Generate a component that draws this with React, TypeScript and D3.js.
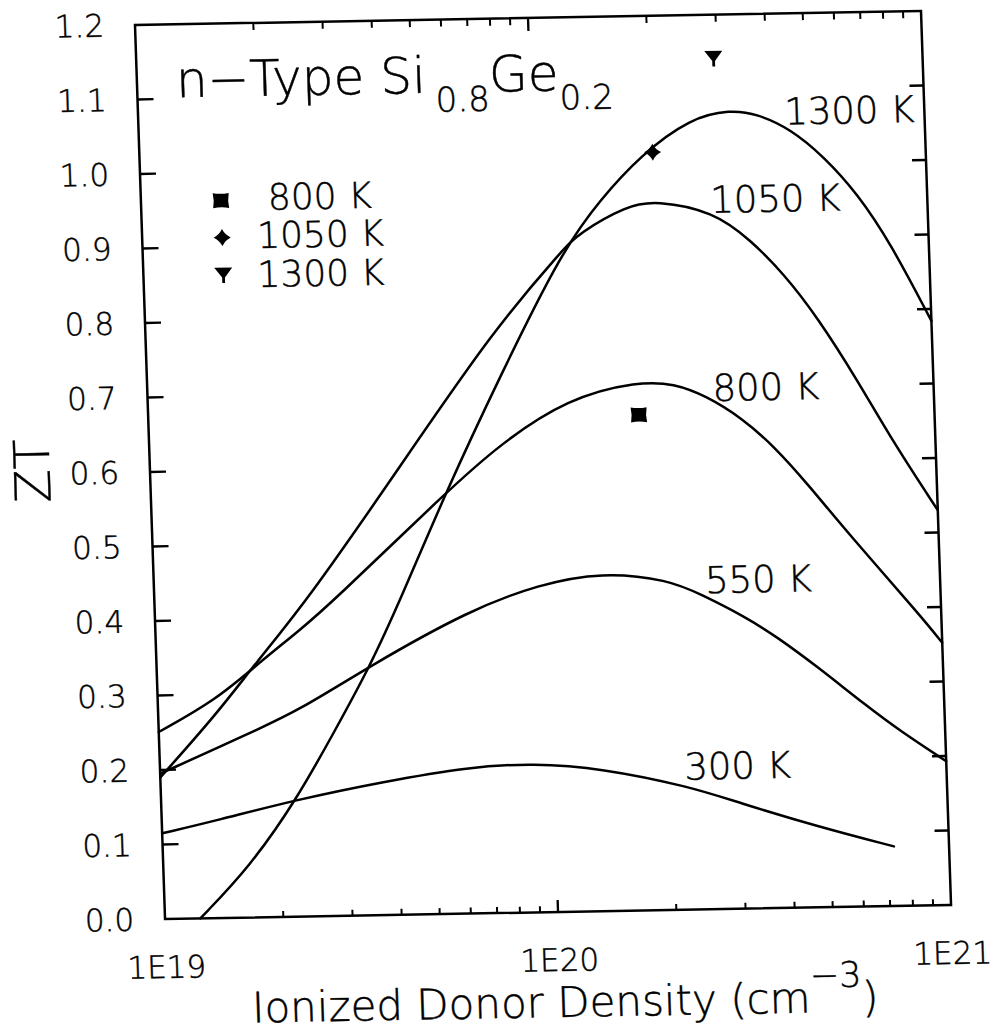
import React from 'react';
import * as d3 from 'd3';

// ---------- data ----------
const X_DOMAIN = [1e19, 1e21];
const Y_DOMAIN = [0, 1.2];
const Y_TICKS = [0.0, 0.1, 0.2, 0.3, 0.4, 0.5, 0.6, 0.7, 0.8, 0.9, 1.0, 1.1, 1.2];
const Y_TICK_LABELS = ['0.0', '0.1', '0.2', '0.3', '0.4', '0.5', '0.6', '0.7', '0.8', '0.9', '1.0', '1.1', '1.2'];
const X_MAJOR = [1e19, 1e20, 1e21];
const X_MAJOR_LABELS = ['1E19', '1E20', '1E21'];
const X_MINOR_MULT = [2, 3, 4, 5, 6, 7, 8, 9];

const SERIES_LABELS = ['300 K', '550 K', '800 K', '1050 K', '1300 K'];

const N_300 = [1.0e19, 1.38e19, 2.21e19, 3.69e19, 6.15e19, 8.91e19, 1.32e20, 2.22e20, 2.92e20, 4.68e20, 7.24e20];
const ZT_300 = [0.115, 0.131, 0.157, 0.179, 0.197, 0.200, 0.192, 0.165, 0.143, 0.108, 0.080];

const N_550 = [1.0e19, 1.70e19, 2.29e19, 3.47e19, 6.31e19, 9.55e19, 1.38e20, 2.04e20, 2.45e20, 3.16e20, 3.80e20, 4.79e20, 6.31e20, 7.76e20, 1.0e21];
const ZT_550 = [0.195, 0.247, 0.277, 0.334, 0.407, 0.440, 0.455, 0.443, 0.423, 0.392, 0.364, 0.323, 0.270, 0.233, 0.193];

const N_800 = [1.0e19, 1.41e19, 1.82e19, 2.34e19, 2.82e19, 5.62e19, 7.76e19, 1.17e20, 1.78e20, 2.19e20, 2.63e20, 3.24e20, 3.89e20, 4.68e20, 5.89e20, 8.91e20, 1.0e21];
const ZT_800 = [0.251, 0.293, 0.341, 0.385, 0.420, 0.565, 0.628, 0.689, 0.710, 0.706, 0.689, 0.658, 0.619, 0.569, 0.501, 0.387, 0.352];

const N_1050 = [1.0e19, 1.41e19, 1.78e19, 2.45e19, 4.27e19, 7.67e19, 1.17e20, 1.29e20, 1.72e20, 2.04e20, 2.85e20, 3.52e20, 4.25e20, 5.13e20, 6.40e20, 7.83e20, 1.0e21];
const ZT_1050 = [0.190, 0.274, 0.340, 0.424, 0.597, 0.782, 0.888, 0.910, 0.946, 0.952, 0.936, 0.897, 0.851, 0.792, 0.707, 0.621, 0.530];

const N_1300 = [1.23e19, 1.66e19, 2.21e19, 2.78e19, 3.49e19, 4.22e19, 5.62e19, 7.91e19, 1.17e20, 1.47e20, 1.88e20, 2.54e20, 3.21e20, 3.75e20, 4.55e20, 5.50e20, 6.64e20, 8.0e20, 1.0e21];
const ZT_1300 = [0.0, 0.068, 0.157, 0.245, 0.334, 0.422, 0.565, 0.720, 0.888, 0.954, 1.013, 1.062, 1.072, 1.066, 1.045, 1.007, 0.957, 0.889, 0.784];

const MEAS_LABELS = ['800 K', '1050 K', '1300 K'];
const MEAS_N = [1.77e20, 2.02e20, 2.94e20];
const MEAS_ZT = [0.665, 1.017, 1.142];

// ---------- layout ----------
const W = 786;
const H = 894;
const FONT = '"DejaVu Sans", sans-serif';
const SKEW = 'matrix(1,-0.0178,0.0336,1,135,25)';
const TXT = { fontWeight: 200, stroke: '#000', strokeWidth: 0.45 };

const SERIES = [
  { n: N_300, zt: ZT_300 },
  { n: N_550, zt: ZT_550 },
  { n: N_800, zt: ZT_800 },
  { n: N_1050, zt: ZT_1050 },
  { n: N_1300, zt: ZT_1300 },
];
const SERIES_LABEL_POS = [
  [524, 764],
  [551, 578],
  [565, 386],
  [569, 198],
  [646, 111],
];

const LEGEND_SYM_POS = [[80, 177], [80, 214], [80, 251]];
const LEGEND_TXT_POS = [[127, 187], [115, 225], [114, 264]];

function marker(kind: number) {
  if (kind === 0) return 'M-8,-7.5 Q0,-6 8,-7.5 Q6.5,0 8,7.5 Q0,6 -8,7.5 Q-6.5,0 -8,-7.5 Z';
  if (kind === 1) return 'M0,-8.5 Q2.8,-2.8 8.5,0 Q2.8,2.8 0,8.5 Q-2.8,2.8 -8.5,0 Q-2.8,-2.8 0,-8.5 Z';
  return 'M-9,-7 L9,-7 L1.4,3 L1.4,8.5 L-1.4,8.5 L-1.4,3 Z';
}

export default function App() {
  const x = d3.scaleLog().domain(X_DOMAIN).range([0, W]);
  const y = d3.scaleLinear().domain(Y_DOMAIN).range([H, 0]);

  const line = d3
    .line<[number, number]>()
    .x((d) => x(d[0]))
    .y((d) => y(d[1]))
    .curve(d3.curveBasis);

  const minor: number[] = [];
  [1e19, 1e20].forEach((dec) => X_MINOR_MULT.forEach((m) => minor.push(dec * m)));

  return (
    <svg
      width={998}
      height={1032}
      style={{ position: 'absolute', left: 0, top: 0, background: '#fff' }}
      fontFamily={FONT}
    >
      <rect x={0} y={0} width={998} height={1032} fill="#fff" />
      <g transform={SKEW}>
        {/* frame */}
        <rect x={0} y={0} width={W} height={H} fill="none" stroke="#000" strokeWidth={2.5} />

        {/* y ticks left and right */}
        {Y_TICKS.slice(1, -1).map((t) => (
          <g key={'yt' + t}>
            <line x1={0} x2={16} y1={y(t)} y2={y(t)} stroke="#000" strokeWidth={2.3} />
            <line x1={W - 14} x2={W} y1={y(t)} y2={y(t)} stroke="#000" strokeWidth={2.3} />
          </g>
        ))}
        {Y_TICKS.map((t, i) => (
          <text key={'yl' + t} x={-31} y={y(t)} dy="0.36em" textAnchor="end" fontSize={31} {...TXT}>
            {Y_TICK_LABELS[i]}
          </text>
        ))}

        {/* x ticks bottom and top */}
        {minor.map((v) => (
          <g key={'xm' + v}>
            <line x1={x(v)} x2={x(v)} y1={H} y2={H - 6} stroke="#000" strokeWidth={2} />
            <line x1={x(v)} x2={x(v)} y1={0} y2={7} stroke="#000" strokeWidth={2} />
          </g>
        ))}
        {X_MAJOR.slice(1, -1).map((v) => (
          <g key={'xM' + v}>
            <line x1={x(v)} x2={x(v)} y1={H} y2={H - 12} stroke="#000" strokeWidth={2.3} />
            <line x1={x(v)} x2={x(v)} y1={0} y2={13} stroke="#000" strokeWidth={2.3} />
          </g>
        ))}
        {X_MAJOR.map((v, i) => (
          <text key={'xl' + v} x={x(v)} y={H + 59} textAnchor="middle" fontSize={31} {...TXT}>
            {X_MAJOR_LABELS[i]}
          </text>
        ))}

        {/* axis titles */}
        <text x={84} y={999} fontSize={42} {...TXT}>
          Ionized Donor Density (cm
          <tspan fontSize={35} dy={-25}>{'\u22123'}</tspan>
          <tspan dy={25}>)</tspan>
        </text>
        <text
          transform={`translate(-118,444) rotate(-90)`}
          textAnchor="middle"
          dy="0.36em"
          fontSize={49}
          {...TXT}
        >
          ZT
        </text>

        {/* title */}
        <text x={39} y={73} fontSize={50} {...TXT}>
          {'n\u2212Type Si'}
        </text>
        <text x={298} y={92} fontSize={34} {...TXT}>0.8</text>
        <text x={352} y={73} fontSize={50} {...TXT}>Ge</text>
        <text x={422} y={92} fontSize={34} {...TXT}>0.2</text>

        {/* legend */}
        {MEAS_LABELS.map((lab, i) => (
          <g key={'lg' + i}>
            <path
              d={marker(i)}
              transform={`translate(${LEGEND_SYM_POS[i][0]},${LEGEND_SYM_POS[i][1]})`}
              fill="#000"
            />
            <text x={LEGEND_TXT_POS[i][0]} y={LEGEND_TXT_POS[i][1]} fontSize={36} {...TXT}>
              {lab}
            </text>
          </g>
        ))}

        {/* curves */}
        {SERIES.map((s, i) => (
          <path
            key={'c' + i}
            d={line(s.n.map((v, j) => [v, s.zt[j]] as [number, number])) || ''}
            fill="none"
            stroke="#000"
            strokeWidth={2.5}
            strokeLinejoin="round"
            strokeLinecap="round"
          />
        ))}
        {SERIES_LABELS.map((lab, i) => (
          <text
            key={'sl' + i}
            x={SERIES_LABEL_POS[i][0]}
            y={SERIES_LABEL_POS[i][1]}
            fontSize={37}
            {...TXT}
          >
            {lab}
          </text>
        ))}

        {/* measured points */}
        {MEAS_N.map((v, i) => (
          <path
            key={'mp' + i}
            d={marker(i)}
            transform={`translate(${x(v)},${y(MEAS_ZT[i])})`}
            fill="#000"
          />
        ))}
      </g>
    </svg>
  );
}
